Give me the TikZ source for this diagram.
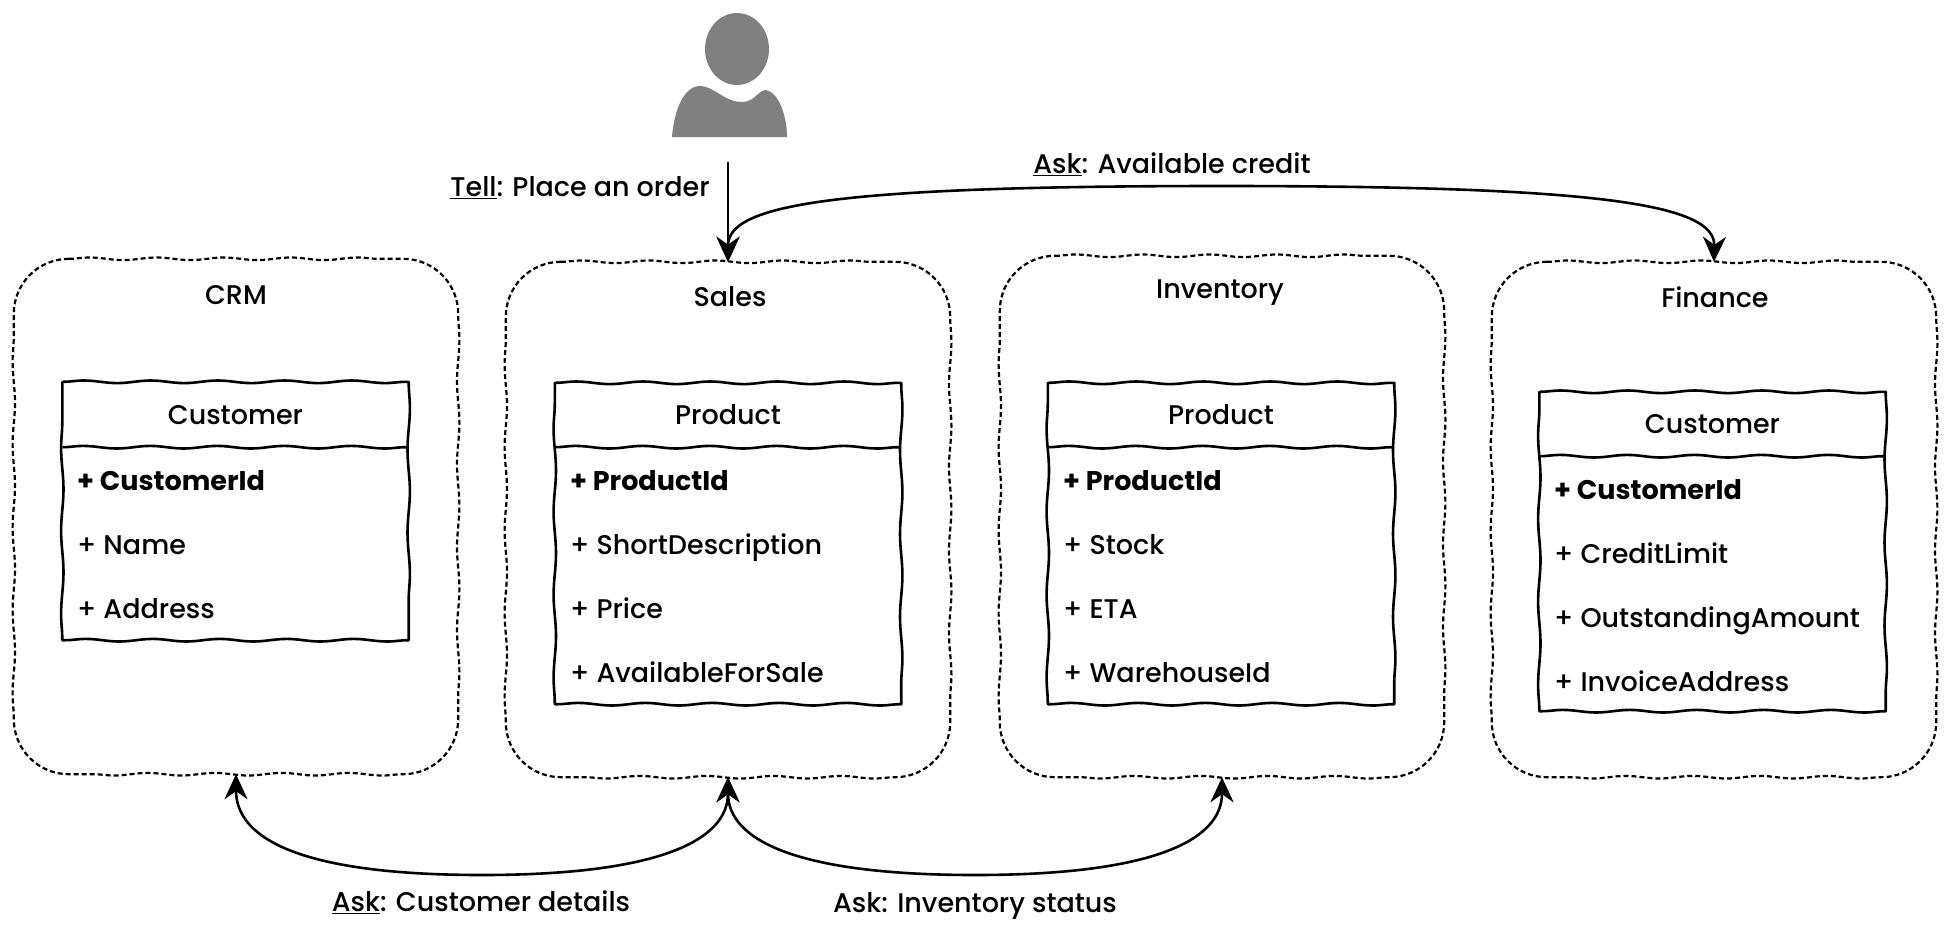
\documentclass[tikz,border=0pt]{standalone}
\usepackage{fontspec}
\setmainfont{Poppins}[UprightFont=* Medium,BoldFont=* Bold]
\usetikzlibrary{arrows.meta,decorations.pathmorphing}

\newcommand{\wobblyframe}[3]{
	\draw[#1] ([xshift=#3]#2.north west) decorate[wobblyh]{-- ([xshift=-#3]#2.north east)} arc[start angle=-90,end angle=0,radius=#3]
		decorate[wobblyv]{-- ([yshift=#3]#2.south east)} arc[start angle=0,end angle=90,radius=#3]
		decorate[wobblyh]{-- ([xshift=#3]#2.south west)} arc[start angle=90,end angle=180,radius=#3]
		decorate[wobblyv]{-- ([yshift=-#3]#2.north west)} arc[start angle=180,end angle=270,radius=#3] -- cycle;
}

\tikzset{
	>={Stealth[length=25,width=23,inset=8]},
	wobblyh/.style={decoration={snake,segment length=67,amplitude=1.3}},
	wobblyv/.style={decoration={snake,segment length=83,amplitude=1.2}},
	context/.style={minimum width=444,minimum height=515,inner sep=0},
	contextline/.style={line width=2.2,dash pattern=on 5 off 3},
	classbox/.style={minimum width=346,inner sep=0},
	classline/.style={line width=2.6},
	title/.style={font=\fontsize{27}{32}\selectfont,minimum width=340,minimum height=64,inner sep=0},
	attr/.style={font=\fontsize{27}{32}\selectfont,anchor=base west,inner sep=0},
	attrkey/.style={attr,font=\fontsize{27}{32}\selectfont\bfseries},
	msg/.style={font=\fontsize{27}{32}\selectfont,inner sep=0},
	link/.style={<->,line width=2.6},
}

\begin{document}
\begin{tikzpicture}[x=1pt,y=-1pt]
		\useasboundingbox (0,0) rectangle (1950,929);

		% bounded contexts
		\node[context] (crm) at (236,516.5) {};
		\node[context] (sales) at (728,519.5) {};
		\node[context,minimum height=521] (inventory) at (1222,516.5) {};
		\node[context] (finance) at (1714,519.5) {};
		\wobblyframe{contextline}{crm}{55}
		\wobblyframe{contextline}{sales}{55}
		\wobblyframe{contextline}{inventory}{55}
		\wobblyframe{contextline}{finance}{55}
		\node[msg] (crmname) at (236,295) {CRM};
		\node[msg] (salesname) at (730,297) {Sales};
		\node[msg] (inventoryname) at (1220,293) {Inventory};
		\node[msg] (financename) at (1715,297) {Finance};

		% crm
		\node[classbox,minimum height=258] (crmclass) at (235.5,511) {};
		\wobblyframe{classline}{crmclass}{0.5}
		\node[title] (crmtitle) at (235.5,415) {Customer};
		\draw[classline] (crmclass.west |- crmtitle.south) decorate[wobblyh]{-- (crmclass.east |- crmtitle.south)};
		\node[attrkey] (crmid) at (77,490) {+ CustomerId};
		\node[attr] (crmattrname) at (77,554) {+ Name};
		\node[attr] (crmaddress) at (77,618) {+ Address};

		% sales
		\node[classbox,minimum height=321] (salesclass) at (728,543.5) {};
		\wobblyframe{classline}{salesclass}{0.5}
		\node[title] (salestitle) at (728,415) {Product};
		\draw[classline] (salesclass.west |- salestitle.south) decorate[wobblyh]{-- (salesclass.east |- salestitle.south)};
		\node[attrkey] (salesid) at (570,490) {+ ProductId};
		\node[attr] (salesdesc) at (570,554) {+ ShortDescription};
		\node[attr] (salesprice) at (570,618) {+ Price};
		\node[attr] (salesavail) at (570,682) {+ AvailableForSale};

		% inventory
		\node[classbox,minimum height=321] (invclass) at (1221,543.5) {};
		\wobblyframe{classline}{invclass}{0.5}
		\node[title] (invtitle) at (1221,415) {Product};
		\draw[classline] (invclass.west |- invtitle.south) decorate[wobblyh]{-- (invclass.east |- invtitle.south)};
		\node[attrkey] (invid) at (1063,490) {+ ProductId};
		\node[attr] (invstock) at (1063,554) {+ Stock};
		\node[attr] (inveta) at (1063,618) {+ ETA};
		\node[attr] (invwarehouse) at (1063,682) {+ WarehouseId};

		% finance
		\node[classbox,minimum height=319] (finclass) at (1712.5,551.5) {};
		\wobblyframe{classline}{finclass}{0.5}
		\node[title] (fintitle) at (1712.5,424) {Customer};
		\draw[classline] (finclass.west |- fintitle.south) decorate[wobblyh]{-- (finclass.east |- fintitle.south)};
		\node[attrkey] (finid) at (1554,499) {+ CustomerId};
		\node[attr] (finlimit) at (1554,563) {+ CreditLimit};
		\node[attr] (finamount) at (1554,627) {+ OutstandingAmount};
		\node[attr] (finaddress) at (1554,691) {+ InvoiceAddress};

		% user
		\fill[gray] (737,49) ellipse (32 and 36);
		\fill[gray] (672,137) .. controls (674,110) and (684,86) .. (700,86)
			.. controls (714,86) and (724,102) .. (742,102)
			.. controls (755,102) and (758,90) .. (766,90)
			.. controls (778,92) and (787,115) .. (787,137) -- cycle;
		\coordinate (user) at (728,162);

		% messages
		\draw[->,line width=2.6] (user) -- (sales.north);
		\node[msg] (tell) at (580,188) {\underline{Tell}: Place an order};
		\draw[link] (sales.north) .. controls (728,205) and (830,186) .. (1222,186) .. controls (1605,186) and (1715,205) .. (finance.north);
		\node[msg] (askcredit) at (1172,164) {\underline{Ask}: Available credit};
		\draw[link] (sales.south) .. controls (728,840) and (660,875) .. (482,875) .. controls (304,875) and (236,840) .. (crm.south);
		\node[msg] (askcustomer) at (481,902) {\underline{Ask}: Customer details};
		\draw[link] (sales.south) .. controls (728,840) and (796,875) .. (975,875) .. controls (1154,875) and (1222,840) .. (inventory.south);
		\node[msg] (askinventory) at (975,906) {Ask: Inventory status};
	\end{tikzpicture}
\end{document}
